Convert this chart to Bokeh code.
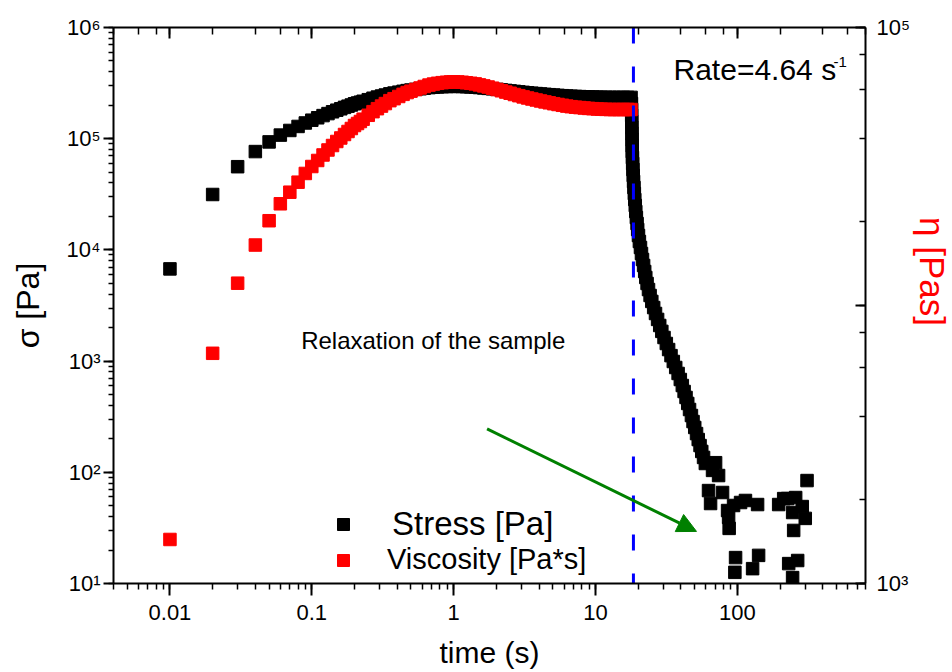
import math
from bokeh.plotting import figure
from bokeh.models import (Range1d, LogScale, LogAxis, LogTicker, CustomJSTickFormatter,
                          Legend, LegendItem, Label, Arrow, NormalHead)
from bokeh.embed import file_html
from bokeh.resources import INLINE

# ---------------- data ----------------
shear_time = [0.01, 0.02, 0.03, 0.04, 0.05, 0.06, 0.07, 0.08, 0.09, 0.10,
              0.11, 0.12, 0.13, 0.14, 0.15, 0.16, 0.17, 0.18, 0.19, 0.20,
              0.21, 0.22, 0.23, 0.25, 0.27, 0.29, 0.31, 0.33, 0.355, 0.38,
              0.41, 0.44, 0.47, 0.50, 0.54, 0.58, 0.62, 0.67, 0.72, 0.77,
              0.83, 0.89, 0.95, 1.0, 1.07, 1.15, 1.23, 1.32, 1.42, 1.52,
              1.63, 1.75, 1.88, 2.02, 2.17, 2.33, 2.5, 2.68, 2.88, 3.09,
              3.32, 3.56, 3.82, 4.1, 4.4, 4.72, 5.07, 5.44, 5.84, 6.27,
              6.73, 7.22, 7.75, 8.32, 8.93, 9.58, 10.3, 11.0, 11.8, 12.7,
              13.6, 14.6, 15.7, 16.8, 17.8]

stress_shear = [6750, 31500, 56000, 76600, 93600, 107700, 118600, 128900, 138500, 146700,
                154200, 161400, 168200, 174600, 180500, 185800, 191300, 196100, 201000, 206100,
                209500, 213000, 217100, 224300, 231100, 236900, 242000, 247100, 253100, 257300,
                262100, 266700, 270700, 273900, 277700, 281200, 284700, 288000, 290400, 292300,
                293800, 294800, 295500, 295800, 295500, 294800, 293600, 292300, 290900, 288500,
                286100, 283500, 280700, 277700, 274800, 271800, 269200, 266400, 263800, 261200,
                258800, 256600, 254500, 252500, 250600, 248700, 246800, 245200, 243600, 242000,
                240800, 239800, 239100, 238200, 237400, 236900, 236300, 235900, 235500, 235200,
                235200, 235200, 235200, 235200, 235200]

viscosity_shear = [1440, 6730, 12030, 16500, 20180, 23220, 25560, 27770, 29850, 31620,
                   33240, 34790, 36260, 37630, 38900, 40050, 41220, 42260, 43320, 44410,
                   45150, 45910, 46790, 48330, 49800, 51050, 52160, 53260, 54550, 55460,
                   56480, 57480, 58340, 59030, 59840, 60600, 61350, 62070, 62590, 63000,
                   63320, 63530, 63690, 63740, 63690, 63530, 63270, 63000, 62690, 62170,
                   61650, 61090, 60490, 59840, 59220, 58580, 58010, 57410, 56850, 56290,
                   55780, 55310, 54860, 54410, 54000, 53600, 53200, 52850, 52500, 52160,
                   51900, 51690, 51520, 51340, 51170, 51050, 50920, 50840, 50760, 50700,
                   50700, 50700, 50700, 50700, 50700]

relax_time = [17.92, 17.95, 17.98, 18.01, 18.04, 18.07, 18.10, 18.12, 18.15, 18.21,
              18.27, 18.36, 18.45, 18.54, 18.66, 18.78, 18.91, 19.06, 19.22, 19.41,
              19.63, 19.82, 20.08, 20.38, 20.74, 21.08, 21.43, 21.82, 22.21, 22.61,
              23.09, 23.63, 24.25, 24.93, 25.70, 26.47, 27.39, 28.35, 29.33, 30.40,
              31.55, 32.75, 34.05, 35.35, 36.75, 38.21, 39.60, 40.91, 42.12, 43.45,
              44.67, 45.99, 47.43, 48.68, 50.05, 51.53, 52.97, 54.55, 56.08, 57.74,
              59.45, 62.6, 64.7, 66.8, 70.2, 73.7, 78.6, 85.3, 86.7, 87.5,
              94.0, 97.1, 96.0, 105.3, 114.0, 128.0, 138.8, 141.1, 195.4, 212.0,
              226.1, 229.9, 245.2, 245.0, 249.3, 257.5, 266.0, 286.7, 301.0, 309.7]

stress_relax = [207300, 183100, 161700, 142800, 126100, 111400, 98360, 86860, 76710, 67750,
                59840, 52840, 46680, 41220, 36400, 32150, 28390, 25070, 22140, 19560,
                17270, 15250, 13470, 11900, 10510, 9280, 8200, 7240, 6390, 5650,
                4990, 4400, 3890, 3440, 3030, 2680, 2370, 2090, 1850, 1630,
                1440, 1270, 1120, 992, 876, 774, 683, 603, 533, 471,
                416, 367, 324, 286, 253, 223, 197, 174, 154, 136,
                120, 68.5, 52.4, 104, 122, 93.5, 65.8, 45.3, 39.3, 31.3,
                50.3, 17.1, 12.6, 53.5, 55.8, 13.6, 51.3, 17.9, 51.3, 58.0,
                58.1, 15.1, 43.5, 11.3, 30.0, 59.3, 16.1, 49.2, 38.5, 84.3]

stress_time = shear_time + relax_time
stress_all = stress_shear + stress_relax

step_time = 18.5          # end of shearing (blue dashed line)
arrow_start = (1.72, 246)
arrow_end = (51.5, 29.4)

x_limits = (0.004, 800)
y_limits = (10, 1e6)
eta_limits = (1e3, 1e5)

FONT = "Liberation Sans"

# ---------------- figure ----------------
p = figure(frame_width=752, frame_height=556,
           min_border_left=113, min_border_right=87, min_border_top=27, min_border_bottom=89,
           x_axis_type="log", y_axis_type="log",
           x_range=Range1d(*x_limits), y_range=Range1d(*y_limits),
           output_backend="svg", toolbar_location=None)
p.grid.visible = False
p.outline_line_color = None
p.background_fill_color = "white"
p.border_fill_color = "white"

p.extra_y_ranges = {"eta": Range1d(*eta_limits)}
p.extra_y_scales = {"eta": LogScale()}

SUP_JS = """
const e = Math.round(Math.log10(tick));
const sup = ['\\u2070','\\u00b9','\\u00b2','\\u00b3','\\u2074','\\u2075','\\u2076','\\u2077','\\u2078','\\u2079'];
%s
return '10' + sup[e];
"""

DEC_JS = """
const e = Math.round(Math.log10(tick));
if (e < 0) { return Math.pow(10, e).toFixed(-e); }
return String(Math.round(Math.pow(10, e)));
"""


def style(ax, tout, tmin_out, tin, tmin_in, standoff, fsize="22px"):
    ax.axis_line_width = 2
    ax.axis_line_color = "black"
    ax.major_tick_line_width = 2
    ax.minor_tick_line_width = 1.5
    ax.major_tick_line_color = "black"
    ax.minor_tick_line_color = "black"
    ax.major_tick_out = tout
    ax.minor_tick_out = tmin_out
    ax.major_tick_in = tin
    ax.minor_tick_in = tmin_in
    ax.major_label_standoff = standoff
    ax.major_label_text_font = FONT
    ax.major_label_text_font_size = fsize
    ax.major_label_text_color = "black"
    ax.axis_label_text_font = FONT
    ax.axis_label_text_font_style = "normal"
    ax.axis_label_text_color = "black"


xb = p.xaxis[0]
style(xb, 12, 6, 0, 0, 9)
xb.formatter = CustomJSTickFormatter(code=DEC_JS)
xb.axis_label = "time (s)"
xb.axis_label_text_font_size = "30px"
xb.axis_label_standoff = 13

yl = p.yaxis[0]
style(yl, 10, 5, 0, 0, 3)
yl.formatter = CustomJSTickFormatter(code=SUP_JS % "")
yl.axis_label = "σ [Pa]"
yl.axis_label_text_font_size = "32px"
yl.axis_label_standoff = 18

xt = LogAxis(ticker=LogTicker(), formatter=CustomJSTickFormatter(code="return '';"))
style(xt, 0, 0, 11, 7, 0, "1px")
p.add_layout(xt, "above")

NB = "\u00a0"
yr = LogAxis(y_range_name="eta", ticker=LogTicker(),
             formatter=CustomJSTickFormatter(code=SUP_JS % "if (e == 4) { return ''; }"))
style(yr, 0, 0, 10, 6, 11)
yr.axis_label = "η [Pas]" + NB * 7
yr.axis_label_text_font_size = "35px"
yr.axis_label_text_color = "#ff0000"
yr.axis_label_standoff = 0
p.add_layout(yr, "right")

# ---------------- data marks ----------------
r_stress = p.scatter(stress_time, stress_all, marker="square", size=12.5,
                     fill_color="black", line_color="black")
r_visc = p.scatter(shear_time, viscosity_shear, marker="square", size=12.5,
                   fill_color="#ff0000", line_color="#ff0000", y_range_name="eta")

p.line([step_time, step_time], [y_limits[1], y_limits[0]], line_color="#0000ff",
       line_width=3, line_dash="16 23")

p.add_layout(Arrow(end=NormalHead(size=19, fill_color="#008000", line_color="#008000"),
                   x_start=arrow_start[0], y_start=arrow_start[1],
                   x_end=arrow_end[0], y_end=arrow_end[1],
                   line_color="#008000", line_width=3))

# ---------------- texts ----------------
p.add_layout(Label(x=0.0841, y=1532, text="Relaxation of the sample", text_font=FONT,
                   text_font_size="24px", text_color="black", text_baseline="alphabetic"))
p.add_layout(Label(x=35.46, y=4.19e5, text="Rate=4.64 s", text_font=FONT,
                   text_font_size="30px", text_color="black", text_baseline="alphabetic"))
p.add_layout(Label(x=475, y=4.94e5, text="-1", text_font=FONT,
                   text_font_size="15px", text_color="black", text_baseline="alphabetic"))

common = dict(glyph_width=30, glyph_height=30, label_text_font=FONT, label_text_color="black",
              padding=0, margin=0, spacing=0, border_line_color=None, background_fill_alpha=0)
leg1 = Legend(items=[LegendItem(label="Stress [Pa]", renderers=[r_stress])],
              location=(215, 40), label_standoff=34, label_text_font_size="33px", **common)
leg2 = Legend(items=[LegendItem(label="Viscosity [Pa*s]", renderers=[r_visc])],
              location=(215, 7), label_standoff=29, label_text_font_size="29px", **common)
p.add_layout(leg1)
p.add_layout(leg2)

open("out.html", "w").write(file_html(p, INLINE))
